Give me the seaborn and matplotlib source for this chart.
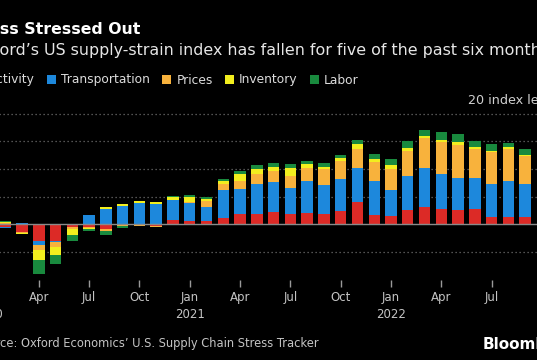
import numpy as np
import pandas as pd
import matplotlib
matplotlib.use("Agg")
import matplotlib.pyplot as plt
from matplotlib.patches import Patch
import seaborn as sns

# ---------------- data (Feb 2020 .. Sep 2022) ----------------
months = pd.date_range("2020-02-01", "2022-09-01", freq="MS")
activity = [-0.5, -1.3, -3.1, -2.95, -0.5, -0.4, -0.9, 0.0, 0.0, -0.3, 0.8,
            0.6, 0.6, 1.1, 1.8, 1.9, 2.3, 1.8, 2.1, 1.9, 2.4, 4.0, 1.7,
            1.5, 2.5, 3.1, 2.8, 2.6, 2.8, 1.25, 1.25, 1.25]
transportation = [-0.1, 0.15, -0.6, -0.3, 0.0, 1.65, 2.75, 3.3, 3.8, 3.7, 3.6,
                  3.3, 2.6, 5.1, 4.6, 5.4, 5.35, 4.8, 5.65, 5.2, 5.7, 6.1, 6.1,
                  4.65, 6.15, 7.15, 6.25, 5.7, 5.55, 5.95, 6.55, 6.0]
prices = [0.15, -0.25, -0.9, -0.78, -0.3, -0.2, -0.35, -0.3, -0.25, -0.15, 0.0,
          0.2, 1.0, 1.0, 1.5, 1.8, 2.0, 2.1, 2.35, 2.9, 3.4, 3.5, 3.5,
          3.85, 4.5, 5.25, 5.85, 6.1, 5.25, 5.9, 5.8, 5.1]
inventory = [0.3, -0.25, -1.93, -1.5, -1.1, -0.3, 0.4, 0.35, 0.35, 0.35, 0.5,
             0.8, 0.45, 0.7, 1.2, 0.9, 0.7, 1.45, 0.8, 0.4, 0.4, 0.85, 0.4,
             0.7, 0.6, 0.35, 0.4, 0.5, 0.35, 0.2, 0.3, 0.12]
labor = [0.15, 0.0, -2.4, -1.68, -1.2, -0.35, -0.6, -0.45, 0.0, 0.0, 0.25,
         0.35, 0.35, 0.35, 0.6, 0.7, 0.65, 0.7, 0.6, 0.6, 0.6, 0.85, 1.0,
         1.15, 1.3, 1.25, 1.3, 1.4, 1.15, 1.15, 0.7, 1.1]

series_names = ["Activity", "Transportation", "Prices", "Inventory", "Labor"]
series_values = [activity, transportation, prices, inventory, labor]
colors = ["#dc2a26", "#1d88dc", "#f8b23c", "#f2ee1e", "#198a3e"]

tick_labels = ["Jan\n2020", "Apr", "Jul", "Oct", "Jan\n2021", "Apr", "Jul",
               "Oct", "Jan\n2022", "Apr", "Jul"]

title = "Less Stressed Out"
subtitle = "Oxford\u2019s US supply-strain index has fallen for five of the past six months"
source = "Source: Oxford Economics\u2019 U.S. Supply Chain Stress Tracker"

# ---------------- style ----------------
sns.set_theme(style="dark")
plt.rcParams["font.family"] = ["DejaVu Sans"]

W, H = 537, 360
fig = plt.figure(figsize=(W / 100, H / 100), dpi=100, facecolor="black")

# x: month index, Jan 2020 = 0
x0_px = -11.5          # pixel of Jan 2020
step_px = 16.77        # pixels per month
xlim = (-0.5, 33.5)
left_px = x0_px + xlim[0] * step_px
right_px = x0_px + xlim[1] * step_px
zero_px = 224.3
unit_px = 5.54
ylim = (-10, 21)
top_px = zero_px - ylim[1] * unit_px
bot_px = zero_px - ylim[0] * unit_px

ax = fig.add_axes([left_px / W, 1 - bot_px / H,
                   (right_px - left_px) / W, (bot_px - top_px) / H])
ax.set_facecolor("black")

xs = np.array([(d.year - 2020) * 12 + d.month - 1 for d in months])
pos_base = np.zeros(len(xs))
neg_base = np.zeros(len(xs))
for name, vals, c in zip(series_names, series_values, colors):
    v = np.array(vals, dtype=float)
    pos = np.where(v > 0, v, 0)
    neg = np.where(v < 0, v, 0)
    ax.bar(xs, pos, bottom=pos_base, width=0.68, color=c, linewidth=0, zorder=3)
    ax.bar(xs, neg, bottom=neg_base, width=0.68, color=c, linewidth=0, zorder=3)
    pos_base += pos
    neg_base += neg

ax.set_xlim(*xlim)
ax.set_ylim(*ylim)
for yv in [-5, 5, 10, 15, 20]:
    ax.axhline(yv, color="#6e6e6e", lw=0.9, ls=(0, (1.0, 2.2)), zorder=1)
ax.axhline(0, color="#8a8a8a", lw=1.0, zorder=4)

ax.set_yticks([])
ax.set_xticks(np.arange(0, 31, 3))
ax.set_xticklabels(tick_labels, linespacing=1.45)
ax.tick_params(axis="x", colors="#9a9a9a", length=5, width=1, direction="out",
               pad=3, labelsize=8.5, labelcolor="#c4c4c4", bottom=True)
for s in ax.spines.values():
    s.set_visible(False)
ax.grid(False)

# texts
fig.text(-21 / W, 1 - 30 / H, title, color="white", fontsize=11.3,
         fontweight="bold", va="center", ha="left")
fig.text(-28 / W, 1 - 50 / H, subtitle, color="#e6e6e6", fontsize=11.4,
         va="center", ha="left")
fig.text(468 / W, 1 - 100 / H, "20 index level", color="#d0d0d0", fontsize=9.2,
         va="center", ha="left")
fig.text(-26 / W, 1 - 343 / H, source, color="#c4c4c4", fontsize=8.3,
         va="center", ha="left")
fig.text(483 / W, 1 - 345 / H, "Bloomberg", color="white", fontsize=11,
         fontweight="bold", va="center", ha="left")

handles = [Patch(facecolor=c, edgecolor="none", label=n)
           for n, c in zip(series_names, colors)]
leg = fig.legend(handles=handles, loc="center left", ncol=5,
                 bbox_to_anchor=(-25 / W, 1 - 80 / H), frameon=False,
                 fontsize=8.8, labelcolor="#dcdcdc", handlelength=0.75,
                 handleheight=0.75, handletextpad=0.4, columnspacing=1.0,
                 borderaxespad=0, borderpad=0)

fig.savefig("out.png", dpi=100, facecolor="black")
